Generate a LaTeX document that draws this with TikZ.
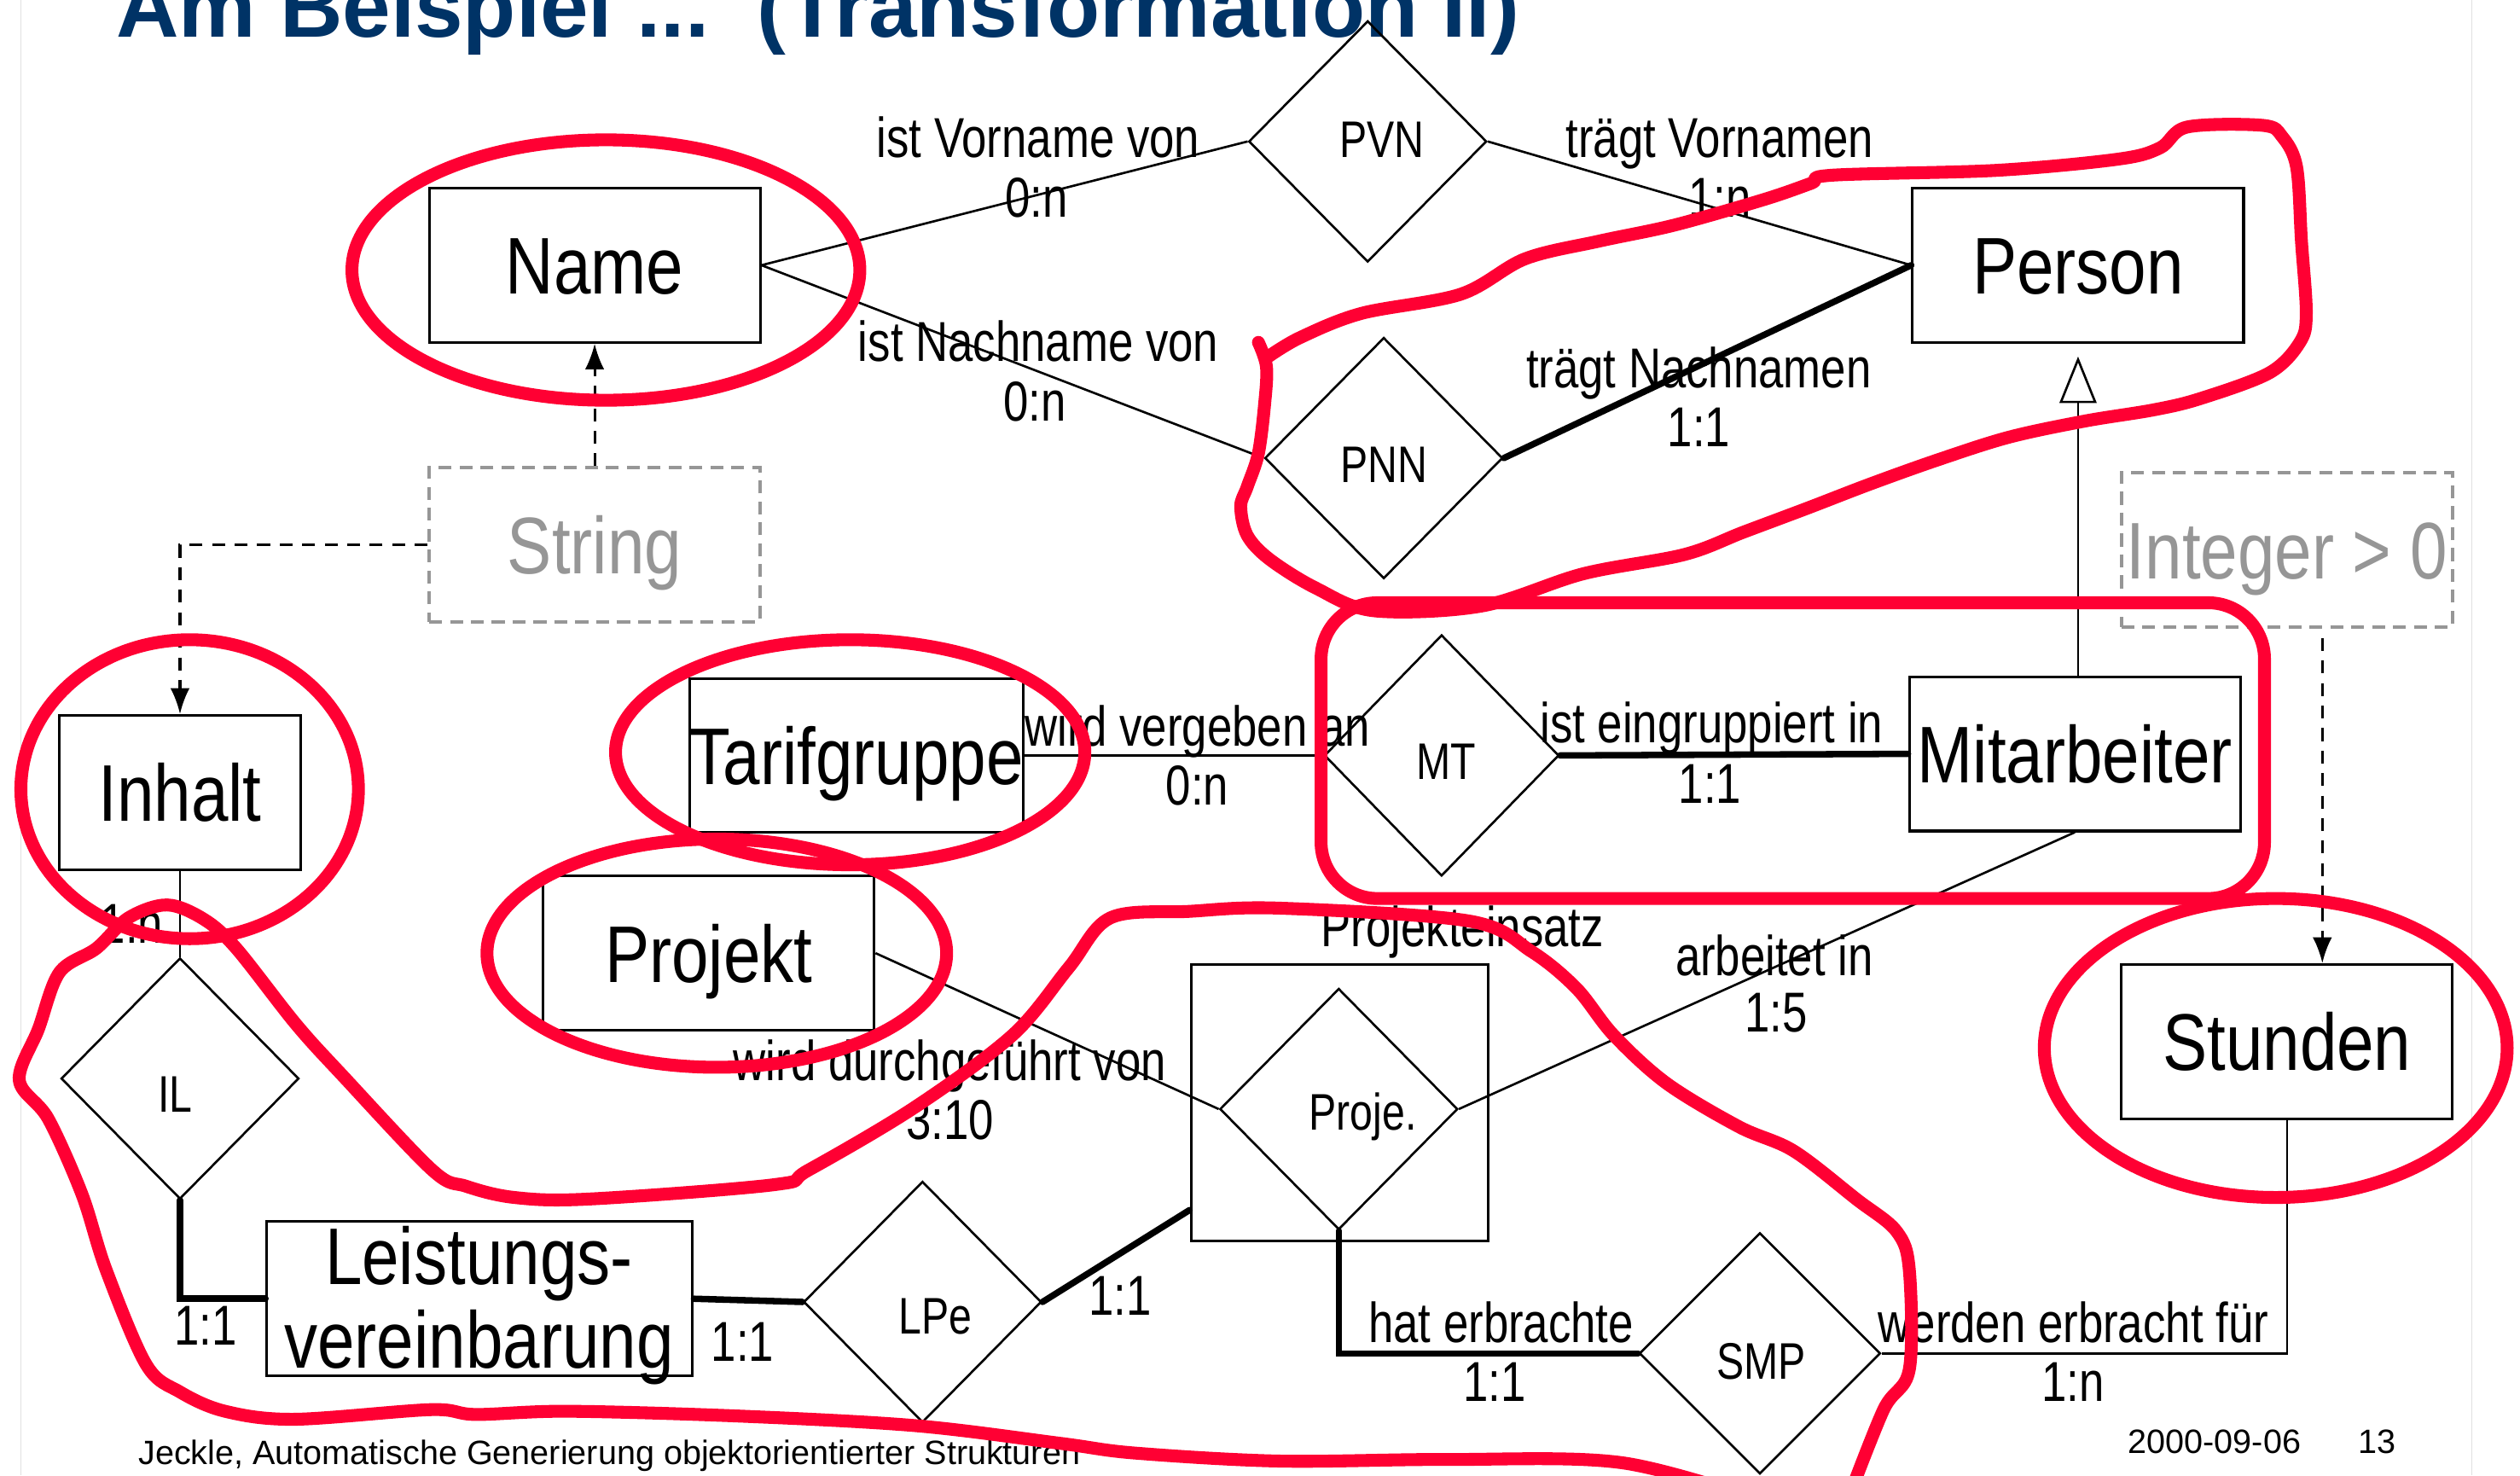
\documentclass[tikz,border=0pt]{standalone}
\usepackage{fontspec}
\setmainfont{Liberation Sans}
\newfontfamily\narrowfont{Liberation Sans}[FakeStretch=0.8]
\newfontfamily\entityfont{Liberation Sans}[FakeStretch=0.83]
\usetikzlibrary{shapes.geometric,arrows.meta,calc}

\definecolor{titleblue}{RGB}{0,51,102}
\definecolor{marker}{RGB}{255,0,51}
\definecolor{typegrey}{RGB}{150,150,150}
\definecolor{framegrey}{RGB}{224,224,224}

\tikzset{
  ent/.style={draw, line width=1.6pt, minimum width=206pt, minimum height=96pt,
    inner sep=0pt, text height=36pt, text depth=0pt,
    font=\entityfont\fontsize{50}{50}\selectfont},
  typebox/.style={ent, draw=typegrey, text=typegrey, line width=2pt,
    dash pattern=on 8pt off 5pt},
  rel/.style={draw, diamond, line width=1.4pt, minimum width=148pt,
    minimum height=150pt, inner sep=0pt},
  reltext/.style={font=\narrowfont\fontsize{32}{32}\selectfont, inner sep=0pt, anchor=base},
  lbl/.style={font=\narrowfont\fontsize{35}{35}\selectfont, inner sep=0pt, anchor=base},
  enttext/.style={font=\entityfont\fontsize{50}{50}\selectfont, inner sep=0pt, anchor=base},
  foottext/.style={anchor=base west, inner sep=0pt, font=\fontsize{21}{21}\selectfont},
  conn/.style={line width=1.4pt},
  connthick/.style={line width=4pt, line cap=round},
  dep/.style={line width=1.6pt, dash pattern=on 8pt off 6pt,
    -{Latex[length=16pt,width=12pt]}},
  gen/.style={line width=1.4pt, shorten >=8pt,
    -{Triangle[open,length=29pt,width=23pt,fill=white]}},
  redmark/.style={draw=marker, line width=8pt, line cap=round, line join=round},
}

\begin{document}
\begin{tikzpicture}[x=1pt,y=-1pt]
\useasboundingbox (0,0) rectangle (1568,918);
\clip (0,0) rectangle (1568,918);
\fill[white] (0,0) rectangle (1568,918);

% slide frame
\draw[framegrey, line width=1pt] (13,0) -- (13,918);
\draw[framegrey, line width=1pt] (1538,0) -- (1538,918);

% heading
\node[anchor=base west, inner sep=0pt, text=titleblue,
  font=\bfseries\fontsize{54}{54}\selectfont] (title) at (72,23)
  {Am Beispiel ...\ \ (Transformation II)};

% entities
\node[ent] (name)   at (370,165) {Name};
\node[ent] (person) at (1293,165) {Person};
\node[typebox] (string)  at (370,339) {String};
\node[typebox] (integer) at (1423,342) {Integer > 0};
\node[ent, minimum width=150pt] (inhalt) at (112,493) {Inhalt};
\node[ent, minimum width=207pt] (tarif) at (533,470) {Tarifgruppe};
\node[ent] (mitarb)  at (1291,469) {Mitarbeiter};
\node[ent] (projekt) at (441,593) {Projekt};
\node[ent] (stunden) at (1423,648) {Stunden};
\node[ent, minimum width=265pt] (leist) at (298.5,808) {};
\node[enttext] (leista) at (298,799) {Leistungs-};
\node[enttext] (leistb) at (298,851) {vereinbarung};

% aggregated relationship box
\node[draw, line width=1.6pt, minimum width=185pt, minimum height=172pt,
  inner sep=0pt] (pe) at (833.5,686) {};
\node[lbl] (pelbl) at (910,589) {Projekteinsatz};

% relationships
\node[rel] (pvn)   at (851,88)  {};
\node[rel] (pnn)   at (861,285) {};
\node[rel, minimum width=146pt] (mt) at (897,470) {};
\node[rel] (il)    at (112,671) {};
\node[rel] (lpe)   at (574,810) {};
\node[rel] (proje) at (833,690) {};
\node[rel, minimum width=150pt] (smp) at (1095,842) {};

\node[reltext] (pvnt)   at (860,98)  {PVN};
\node[reltext] (pnnt)   at (861,300) {PNN};
\node[reltext] (mtt)    at (900,485) {MT};
\node[reltext] (ilt)    at (109,692) {IL};
\node[reltext] (lpet)   at (582,830) {LPe};
\node[reltext] (projet) at (848,703) {Proje.};
\node[reltext] (smpt)   at (1096,858) {SMP};

% connectors
\draw[conn] (name.east) -- (pvn.west);
\draw[conn] (name.east) -- (pnn.west);
\draw[conn] (pvn.east) -- (person.west);
\draw[connthick] (pnn.east) -- (person.west);
\draw[dep] (string.north) -- (name.south);
\draw[dep] (string.west) -| (inhalt.north);
\draw[conn] (tarif.east) -- (mt.west);
\draw[connthick] (mt.east) -- (mitarb.west);
\draw[gen] (person.south |- mitarb.north) -- (person.south);
\draw[dep] ([xshift=22pt,yshift=-6pt]integer.south) -- ([xshift=22pt]stunden.north);
\draw[conn] (inhalt.south) -- (il.north);
\draw[connthick] (il.south) |- (leist.west);
\draw[connthick] (leist.east) -- (lpe.west);
\draw[connthick] (lpe.east) -- ([yshift=20pt]pe.south west);
\draw[conn] (projekt.east) -- (proje.west);
\draw[conn] (mitarb.south) -- (proje.east);
\draw[connthick] (proje.south) |- (smp.west);
\draw[conn] (stunden.south) |- (smp.east);

% role names and cardinalities
\node[lbl] at (646,98)  {ist Vorname von};
\node[lbl] at (645,135) {0:n};
\node[lbl] at (646,225) {ist Nachname von};
\node[lbl] at (644,262) {0:n};
\node[lbl] at (1070,98) {trägt Vornamen};
\node[lbl] at (1070,135) {1:n};
\node[lbl] at (1057,241) {trägt Nachnamen};
\node[lbl] at (1057,278) {1:1};
\node[lbl] at (745,464) {wird vergeben an};
\node[lbl] at (745,501) {0:n};
\node[lbl] at (1065,462) {ist eingruppiert in};
\node[lbl] at (1064,500) {1:1};
\node[lbl] at (82,587) {1:n};
\node[lbl] at (1104,607) {arbeitet in};
\node[lbl] at (1105,642) {1:5};
\node[lbl] at (591,672) {wird durchgeführt von};
\node[lbl] at (591,709) {3:10};
\node[lbl] at (128,837) {1:1};
\node[lbl] at (462,847) {1:1};
\node[lbl] at (697,818) {1:1};
\node[lbl] at (934,835) {hat erbrachte};
\node[lbl] at (930,872) {1:1};
\node[lbl] at (1290,835) {werden erbracht für};
\node[lbl] at (1290,872) {1:n};

% footer
\node[foottext] (foot) at (86,911)
  {Jeckle, Automatische Generierung objektorientierter Strukturen};
\node[foottext] (date) at (1324,904) {2000-09-06};
\node[foottext] (page) at (1467,904) {13};

% red marker annotations
\draw[redmark] (377,168) ellipse [x radius=158pt, y radius=81pt];
\draw[redmark] (118,491) ellipse [x radius=105pt, y radius=93pt];
\draw[redmark] (529,468) ellipse [x radius=146pt, y radius=70pt];
\draw[redmark] (446,593) ellipse [x radius=143pt, y radius=71pt];
\draw[redmark] (1416,652) ellipse [x radius=144pt, y radius=93pt];
\draw[redmark, rounded corners=35pt] (822,375) rectangle (1409,559);
\draw[redmark] plot[smooth, tension=0.55] coordinates {
  (783,213) (788,228) (787,250) (783,282) (776,303) (772,315) (776,333)
  (790,348) (819,366) (855,380) (922,377) (985,357) (1048,345) (1085,331)
  (1125,316) (1164,301) (1206,286) (1250,272) (1297,262) (1340,255)
  (1369,248) (1412,232) (1431,213) (1435,195) (1432,150) (1429,104)
  (1420,85) (1408,78) (1361,79) (1344,92) (1318,99) (1242,106) (1140,109)
  (1127,114) (1098,124) (1042,140) (995,150) (949,161) (909,183) (847,195)
  (809,210) (789,222)};
\draw[redmark] plot[smooth, tension=0.55] coordinates {
  (1100,935) (1009,910) (900,908) (796,909) (706,904) (660,898) (570,887)
  (460,881) (353,878) (296,880) (268,877) (183,883) (140,878) (112,866)
  (91,849) (66,790) (51,743) (30,696) (12,672) (24,640) (37,605) (60,590)
  (80,571) (104,563) (127,572) (147,590) (184,637) (213,669) (269,728)
  (290,738) (320,745) (366,746) (482,737) (503,728) (569,689) (630,644)
  (665,602) (691,571) (740,567) (796,565) (914,573) (953,592) (981,615)
  (1004,644) (1037,674) (1082,701) (1116,716) (1155,746) (1180,766)
  (1188,790) (1188,852) (1172,877) (1149,935)};
\end{tikzpicture}
\end{document}
